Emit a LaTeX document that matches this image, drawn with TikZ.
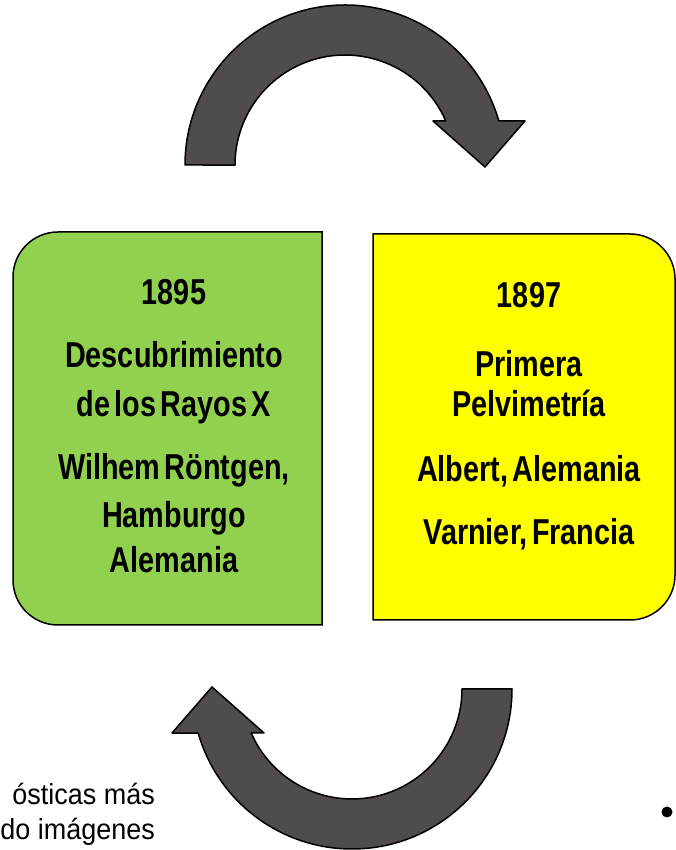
\documentclass[tikz,border=0pt]{standalone}
\usepackage{fontspec}
\setmainfont{Liberation Sans}[FakeStretch=0.8, WordSpace=0.55]
\newfontfamily\notefont{Liberation Sans}[FakeStretch=0.93]

\definecolor{boxgreen}{RGB}{146,208,80}
\definecolor{boxyellow}{RGB}{255,255,0}
\definecolor{arrowgray}{RGB}{80,76,75}

\tikzset{
  bigtext/.style={font=\bfseries\fontsize{36}{40}\selectfont, anchor=base, inner sep=0pt},
  notetext/.style={font=\notefont\fontsize{29}{35}\selectfont, anchor=base east, inner sep=0pt},
  cyclearrow/.style={fill=arrowgray, draw=black, line width=1.5, line join=round},
  greenbox/.style={fill=boxgreen, draw=black, line width=1.5},
  yellowbox/.style={fill=boxyellow, draw=black, line width=1.5},
}

\begin{document}
\begin{tikzpicture}[x=1pt, y=1pt]

% Page frame
\useasboundingbox (0,0) rectangle (676,850);

% Curved arrows (top one, and the same turned half round below)
\foreach \cx/\cy/\rot in {345/685/0, 352/161/180} {
  \draw[cyclearrow, shift={(\cx,\cy)}, rotate=\rot]
    (-160,0) arc[start angle=180, end angle=16, radius=160]
    -- (180,44) -- (140,-2) -- (88,44) -- (100.8,44)
    arc[start angle=23.6, end angle=180, radius=110] -- cycle;
}

% Green box, rounded on the left
\draw[greenbox] (322,225) -- (322,618) -- (58,618)
  arc[start angle=90, end angle=180, radius=45] -- (13,270)
  arc[start angle=180, end angle=270, radius=45] -- cycle;

% Yellow box, rounded on the right
\draw[yellowbox] (373,230) -- (373,616) -- (630,616)
  arc[start angle=90, end angle=0, radius=45] -- (675,275)
  arc[start angle=0, end angle=-90, radius=45] -- cycle;

% Texts of the green box
\node[bigtext] (year1) at (174,545) {1895};
\node[bigtext] (disc1) at (174,482) {Descubrimiento};
\node[bigtext] (disc2) at (174,433) {de los Rayos X};
\node[bigtext] (who1) at (174,370) {Wilhem Röntgen,};
\node[bigtext] (who2) at (174,322) {Hamburgo};
\node[bigtext] (who3) at (174,277) {Alemania};

% Texts of the yellow box
\node[bigtext] (year2) at (529,542) {1897};
\node[bigtext] (pelv1) at (529,473) {Primera};
\node[bigtext] (pelv2) at (529,433) {Pelvimetría};
\node[bigtext] (auth1) at (529,368) {Albert, Alemania};
\node[bigtext] (auth2) at (529,305) {Varnier, Francia};

% Cut text at the bottom left
\node[notetext] (note1) at (155,45) {ósticas más};
\node[notetext] (note2) at (155,10) {do imágenes};

% Bullet at the bottom right
\fill (667,38) circle (5.5);

\end{tikzpicture}
\end{document}
